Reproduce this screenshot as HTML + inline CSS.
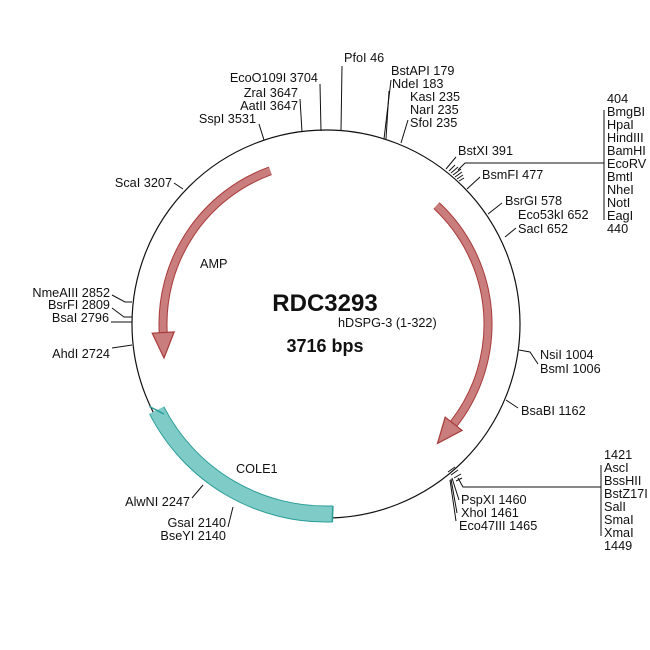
<!DOCTYPE html>
<html><head><meta charset="utf-8"><style>html,body{margin:0;padding:0;background:#fff}svg{display:block}text{font-family:"Liberation Sans",Arial,sans-serif;font-size:12.7px;fill:#111}</style></head>
<body>
<svg width="650" height="650" viewBox="0 0 650 650">
<rect width="650" height="650" fill="#fff"/>
<circle cx="326" cy="324" r="194" fill="none" stroke="#111" stroke-width="1.2"/>
<!-- COLE1 -->
<path d="M156.7,410.3 A190,190 0 0 0 332.6,513.9" fill="none" stroke="#2a9d98" stroke-width="17"/>
<path d="M156.7,410.3 A190,190 0 0 0 332.6,513.9" fill="none" stroke="#7ecbc7" stroke-width="15"/>
<line x1="149.4" y1="406.5" x2="164.0" y2="414.1" stroke="#2a9d98" stroke-width="1.5"/>
<line x1="332.9" y1="505.9" x2="332.3" y2="521.9" stroke="#2a9d98" stroke-width="1.5"/>
<!-- hDSPG arrow -->
<g stroke-linejoin="miter">
<path d="M436.5,205.6 A162,162 0 0 1 453.7,423.8" fill="none" stroke="#a83a3a" stroke-width="9"/>
<path d="M436.5,205.6 A162,162 0 0 1 453.7,423.8" fill="none" stroke="#c97d7d" stroke-width="7"/>
<polygon points="445.2,417.2 462.1,430.4 437.5,443.4" fill="#c97d7d" stroke="#a83a3a" stroke-width="1.2"/>
<!-- AMP arrow -->
<path d="M270.3,170.8 A163,163 0 0 0 163.2,332.5" fill="none" stroke="#a83a3a" stroke-width="9"/>
<path d="M270.3,170.8 A163,163 0 0 0 163.2,332.5" fill="none" stroke="#c97d7d" stroke-width="7"/>
<polygon points="152.2,333.2 174.2,331.9 164,358" fill="#c97d7d" stroke="#a83a3a" stroke-width="1.2"/>
</g>
<!-- ticks -->
<g stroke="#111" stroke-width="1" fill="none">
<line x1="342" y1="66" x2="341" y2="131"/>
<line x1="320" y1="84" x2="321" y2="131"/>
<line x1="300" y1="99" x2="302" y2="132"/>
<line x1="259" y1="124" x2="264" y2="140"/>
<line x1="391" y1="80" x2="384" y2="139"/>
<line x1="389" y1="91" x2="386" y2="139"/>
<line x1="408" y1="120" x2="401" y2="143"/>
<line x1="456" y1="157" x2="446" y2="169"/>
<line x1="449" y1="171" x2="455" y2="165"/>
<line x1="451" y1="173" x2="458" y2="167"/>
<line x1="453" y1="175" x2="461" y2="169"/>
<line x1="455" y1="177" x2="462" y2="172"/>
<line x1="457" y1="179" x2="463" y2="175"/>
<line x1="459" y1="181" x2="464" y2="178"/>
<polyline points="458,170 465,163 604,163"/>
<line x1="604" y1="110" x2="604" y2="220"/>
<line x1="480" y1="177" x2="467" y2="189"/>
<line x1="502" y1="203" x2="488" y2="214"/>
<line x1="516" y1="228" x2="505" y2="237"/>
<polyline points="519,350 530,352 538,364"/>
<line x1="506" y1="400" x2="518" y2="408"/>
<line x1="448" y1="472" x2="455" y2="467"/>
<line x1="451" y1="475" x2="458" y2="470"/>
<line x1="454" y1="478" x2="461" y2="474"/>
<line x1="456" y1="481" x2="462" y2="478"/>
<polyline points="458,478 463,487 601,487"/>
<line x1="601" y1="465" x2="601" y2="536"/>
<line x1="452" y1="478" x2="459" y2="500"/>
<line x1="451" y1="479" x2="457" y2="513"/>
<line x1="450" y1="480" x2="456" y2="521"/>
<polyline points="112,295 125,302 132,302"/>
<polyline points="112,308 124,317 132,317"/>
<line x1="111" y1="322" x2="132" y2="322"/>
<line x1="112" y1="348" x2="132" y2="345"/>
<line x1="174" y1="183" x2="183" y2="189"/>
<line x1="192" y1="498" x2="203" y2="485"/>
<line x1="228" y1="527" x2="233" y2="507"/>
</g>
<!-- labels -->
<text x="344" y="62">PfoI 46</text>
<text x="318" y="82" text-anchor="end">EcoO109I 3704</text>
<text x="298" y="97" text-anchor="end">ZraI 3647</text>
<text x="298" y="110" text-anchor="end">AatII 3647</text>
<text x="256" y="123" text-anchor="end">SspI 3531</text>
<text x="391" y="75">BstAPI 179</text>
<text x="392" y="88">NdeI 183</text>
<text x="410" y="101">KasI 235</text>
<text x="410" y="114">NarI 235</text>
<text x="410" y="127">SfoI 235</text>
<text x="458" y="155">BstXI 391</text>
<text x="482" y="179">BsmFI 477</text>
<text x="505" y="205">BsrGI 578</text>
<text x="518" y="219">Eco53kI 652</text>
<text x="518" y="233">SacI 652</text>
<g>
<text x="607" y="103">404</text><text x="607" y="116">BmgBI</text><text x="607" y="129">HpaI</text><text x="607" y="142">HindIII</text><text x="607" y="155">BamHI</text><text x="607" y="168">EcoRV</text><text x="607" y="181">BmtI</text><text x="607" y="194">NheI</text><text x="607" y="207">NotI</text><text x="607" y="220">EagI</text><text x="607" y="233">440</text>
</g>
<text x="540" y="359">NsiI 1004</text>
<text x="540" y="373">BsmI 1006</text>
<text x="521" y="415">BsaBI 1162</text>
<g>
<text x="604" y="459">1421</text><text x="604" y="472">AscI</text><text x="604" y="485">BssHII</text><text x="604" y="498">BstZ17I</text><text x="604" y="511">SalI</text><text x="604" y="524">SmaI</text><text x="604" y="537">XmaI</text><text x="604" y="550">1449</text>
</g>
<text x="461" y="504">PspXI 1460</text>
<text x="461" y="517">XhoI 1461</text>
<text x="459" y="530">Eco47III 1465</text>
<text x="110" y="297" text-anchor="end">NmeAIII 2852</text>
<text x="110" y="309" text-anchor="end">BsrFI 2809</text>
<text x="109" y="322" text-anchor="end">BsaI 2796</text>
<text x="110" y="358" text-anchor="end">AhdI 2724</text>
<text x="172" y="187" text-anchor="end">ScaI 3207</text>
<text x="190" y="506" text-anchor="end">AlwNI 2247</text>
<text x="226" y="527" text-anchor="end">GsaI 2140</text>
<text x="226" y="540" text-anchor="end">BseYI 2140</text>
<text x="236" y="473">COLE1</text>
<text x="200" y="268">AMP</text>
<text x="338" y="327">hDSPG-3 (1-322)</text>
<text x="325" y="311" text-anchor="middle" style="font-size:24px;font-weight:bold">RDC3293</text>
<text x="325" y="352" text-anchor="middle" style="font-size:18px;font-weight:bold">3716 bps</text>
</svg>
</body></html>
